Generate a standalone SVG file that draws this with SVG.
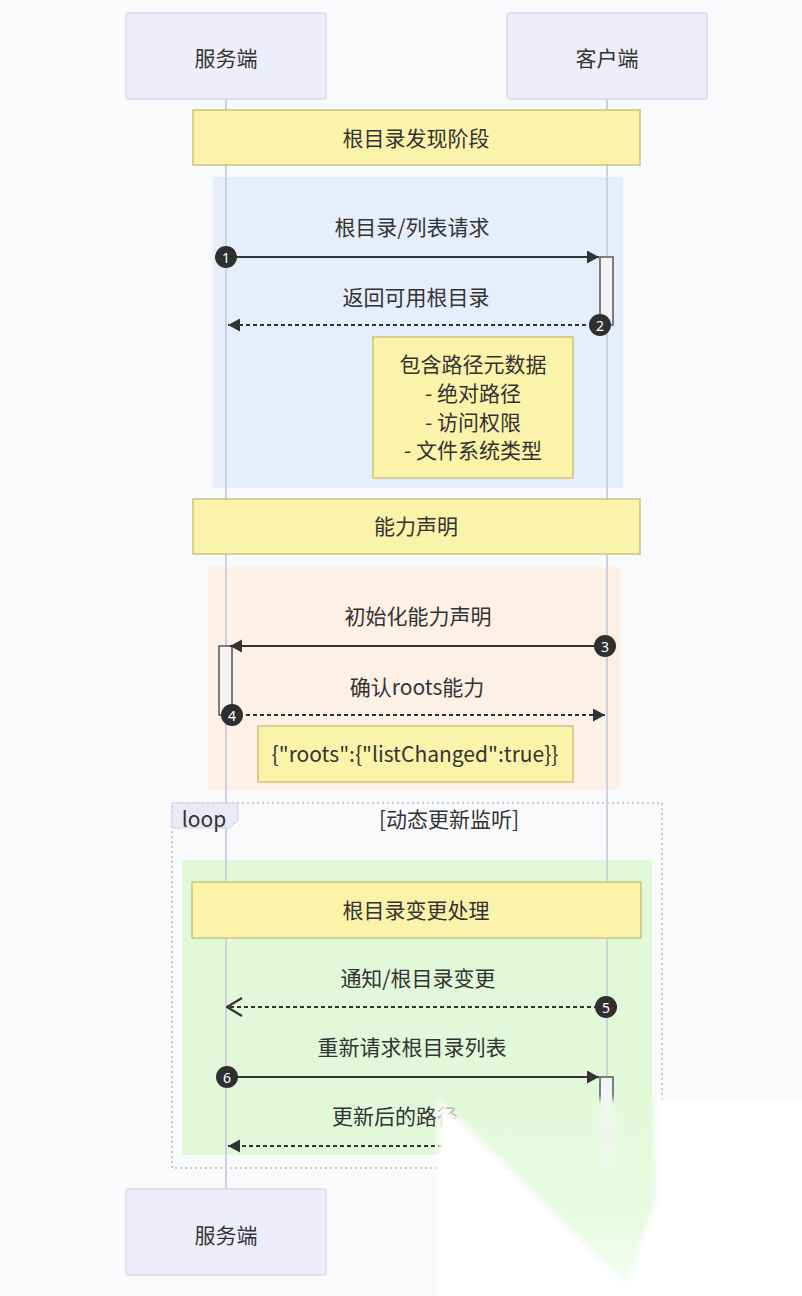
<svg xmlns="http://www.w3.org/2000/svg" width="802" height="1296" viewBox="0 0 802 1296">
<style>
text{font-family:"Noto Sans CJK SC","Noto Sans",sans-serif;fill:#333;font-size:21px;text-anchor:middle;dominant-baseline:central}
.actor{fill:#eeeefb;stroke:#d8d8ea;stroke-width:1.5}
.note{fill:#fbf3aa;stroke:#cbc37e;stroke-width:1.5}
.life{stroke:#cfd0e2;stroke-width:2}
.act{fill:#f4f4f6;stroke:#555;stroke-width:1.5}
.msg{stroke:#333;stroke-width:2;fill:none}
.dash{stroke-dasharray:4,3}
.num{fill:#2f2f2f}
.numt{fill:#fff;font-size:14px;font-family:"Noto Sans",sans-serif}
.loop{fill:none;stroke:#c9c9cf;stroke-width:2;stroke-dasharray:2,3}
</style>
<defs>
<marker id="arr" markerUnits="userSpaceOnUse" markerWidth="13" markerHeight="14" refX="12" refY="6.5" orient="auto" viewBox="0 0 13 14">
<path d="M0,0 L12,6.5 L0,13 z" fill="#333" stroke="none"/>
</marker>
<marker id="open" markerUnits="userSpaceOnUse" markerWidth="18" markerHeight="22" refX="17" refY="11" orient="auto" viewBox="0 0 18 22">
<path d="M2,2 L17,11 L2,20" fill="none" stroke="#333" stroke-width="2.2" stroke-dasharray="none"/>
</marker>
<filter id="soft" x="-20%" y="-20%" width="140%" height="140%"><feGaussianBlur stdDeviation="3"/></filter>
<linearGradient id="smear" x1="0" y1="0" x2="0" y2="1"><stop offset="0" stop-color="#fff" stop-opacity="0.2"/><stop offset="0.5" stop-color="#f4eef4" stop-opacity="0.9"/><stop offset="1" stop-color="#fff" stop-opacity="0"/></linearGradient>
<linearGradient id="greenfade" x1="0" y1="0" x2="0" y2="1"><stop offset="0" stop-color="#e2f9d9"/><stop offset="0.7" stop-color="#e8fae1"/><stop offset="1" stop-color="#f6fdf3"/></linearGradient>
</defs>
<rect x="0" y="0" width="802" height="1296" fill="#f9fafc"/>
<g id="sections">
<rect x="213" y="177" width="410" height="311" fill="#e7eefb"/>
<rect x="208" y="567" width="412" height="223" fill="#fcf0e7"/>
<rect x="182" y="860" width="470" height="295" fill="#e2f9d9"/>
</g>
<g id="lifelines">
<line class="life" x1="226" y1="99" x2="226" y2="1189"/>
<line class="life" x1="607" y1="99" x2="607" y2="1120"/>
</g>
<g id="actor-server-top"><rect class="actor" x="126" y="13" width="200" height="86" rx="3"/><text x="226" y="57">服务端</text></g>
<g id="actor-client-top"><rect class="actor" x="507" y="13" width="200" height="86" rx="3"/><text x="607" y="57">客户端</text></g>
<g id="actor-server-bottom"><rect class="actor" x="126" y="1189" width="200" height="86" rx="3"/><text x="226" y="1234">服务端</text></g>
<g id="note-discovery"><rect class="note" x="193" y="110" width="447" height="55"/><text x="416" y="137">根目录发现阶段</text></g>
<g id="note-metadata"><rect class="note" x="373" y="337" width="200" height="141"/>
<text x="473" y="363">包含路径元数据</text><text x="473" y="392">- 绝对路径</text><text x="473" y="421">- 访问权限</text><text x="473" y="449">- 文件系统类型</text></g>
<g id="note-capability"><rect class="note" x="193" y="499" width="447" height="55"/><text x="416" y="525">能力声明</text></g>
<g id="note-roots"><rect class="note" x="258" y="726" width="315" height="56"/><text x="415" y="753">{"roots":{"listChanged":true}}</text></g>
<g id="note-change"><rect class="note" x="192" y="882" width="449" height="56"/><text x="416" y="909">根目录变更处理</text></g>
<g id="activations">
<rect class="act" x="600" y="257" width="13" height="68"/>
<rect class="act" x="219" y="646" width="13" height="69"/>
<rect class="act" x="600" y="1077" width="13" height="60"/>
</g>
<g id="loop">
<rect class="loop" x="172" y="803" width="490" height="365"/>
<path d="M172,803 H238 V820 L230,828 H172 Z" fill="#eaeaf6" stroke="#d0d0df" stroke-width="1"/>
<text x="204" y="818">loop</text>
<text x="449" y="818">[动态更新监听]</text>
</g>
<g id="connectors">
<text x="412" y="226">根目录/列表请求</text>
<line class="msg" x1="226" y1="257" x2="599" y2="257" marker-end="url(#arr)"/>
<text x="416" y="296">返回可用根目录</text>
<line class="msg dash" x1="600" y1="325" x2="228" y2="325" marker-end="url(#arr)"/>
<text x="418" y="615">初始化能力声明</text>
<line class="msg" x1="605" y1="646" x2="230" y2="646" marker-end="url(#arr)"/>
<text x="417" y="686">确认roots能力</text>
<line class="msg dash" x1="232" y1="715" x2="605" y2="715" marker-end="url(#arr)"/>
<text x="418" y="977">通知/根目录变更</text>
<line class="msg dash" x1="605" y1="1007" x2="227" y2="1007" marker-end="url(#open)"/>
<text x="412" y="1046">重新请求根目录列表</text>
<line class="msg" x1="227" y1="1077" x2="599" y2="1077" marker-end="url(#arr)"/>
<text x="332" y="1115" style="text-anchor:start">更新后的路径</text>
<line class="msg dash" x1="470" y1="1146" x2="228" y2="1146" marker-end="url(#arr)"/>
</g>
<g id="numbers">
<circle class="num" cx="226" cy="257" r="11"/><text class="numt" x="226" y="257">1</text>
<circle class="num" cx="600" cy="325" r="11"/><text class="numt" x="600" y="325">2</text>
<circle class="num" cx="605" cy="646" r="11"/><text class="numt" x="605" y="646">3</text>
<circle class="num" cx="232" cy="715" r="11"/><text class="numt" x="232" y="715">4</text>
<circle class="num" cx="606" cy="1007" r="11"/><text class="numt" x="606" y="1007">5</text>
<circle class="num" cx="227" cy="1077" r="11"/><text class="numt" x="227" y="1077">6</text>
</g>
<g id="occlusion" filter="url(#soft)">
<polygon points="444,1101 655,1099 655,1200 627,1285" fill="url(#greenfade)"/>
<rect x="600" y="1098" width="14" height="75" fill="url(#smear)"/>
<polygon points="438,1099 627,1286 627,1300 438,1300" fill="#ffffff"/>
<polygon points="656,1099 806,1099 806,1300 627,1300 627,1286 656,1200" fill="#ffffff"/>
</g>
</svg>
